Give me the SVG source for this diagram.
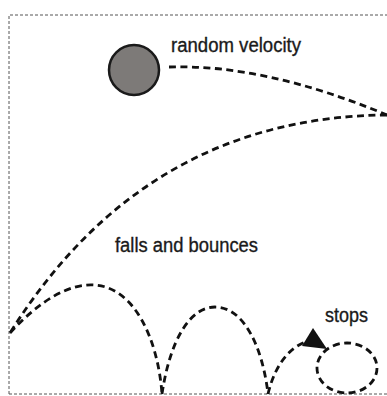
<svg xmlns="http://www.w3.org/2000/svg" width="387" height="396" viewBox="0 0 387 396">
<style>
.frame{fill:none;stroke:#555;stroke-width:1;stroke-dasharray:3 2}
.traj{fill:none;stroke:#111;stroke-width:2.8;stroke-dasharray:7 4.5}
.lbl{font-family:"Liberation Sans",Arial,sans-serif;font-size:20px;fill:#1a1a1a;stroke:#1a1a1a;stroke-width:0.35}
</style>
<rect width="387" height="396" fill="#fff"/>
<g id="frame">
<path class="frame" d="M9,394 V15 H387 M9,394 H387"/>
</g>
<g id="connectors">
<path class="traj" d="M169,67 Q265,64 387,115"/>
<path class="traj" d="M387,115 Q145,117 10,333"/>
<path class="traj" d="M10,333 C40,300 70,283 95,285 C135,288 158,340 162,394"/>
<path class="traj" d="M162,394 C170,340 190,307 215,307 C245,307 263,350 268,394"/>
<path class="traj" d="M268,394 C276,360 295,342 314,340"/>
<ellipse class="traj" cx="347" cy="368" rx="30" ry="25"/>
<polygon points="313,328 302,346 327,349" fill="#111"/>
</g>
<g id="ball">
<circle cx="134" cy="70" r="25" fill="#7d7a78" stroke="#1a1a1a" stroke-width="2.5"/>
</g>
<g id="label-random">
<text class="lbl" x="171" y="52" textLength="130" lengthAdjust="spacingAndGlyphs">random velocity</text>
</g>
<g id="label-falls">
<text class="lbl" x="115" y="252" textLength="143" lengthAdjust="spacingAndGlyphs">falls and bounces</text>
</g>
<g id="label-stops">
<text class="lbl" x="325" y="322" textLength="43" lengthAdjust="spacingAndGlyphs">stops</text>
</g>
</svg>
